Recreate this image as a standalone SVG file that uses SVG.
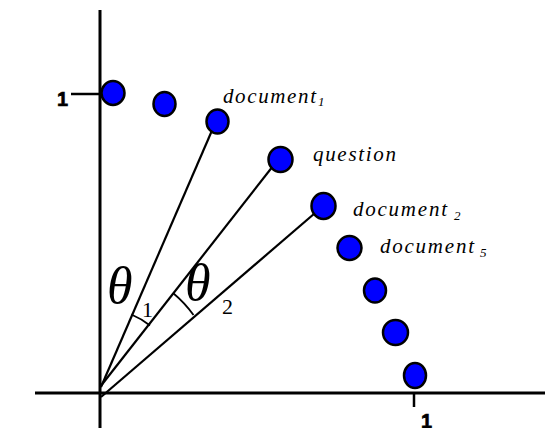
<svg xmlns="http://www.w3.org/2000/svg" width="556" height="428" viewBox="0 0 556 428">
<style>
.axis{stroke:#000;stroke-width:3;fill:none}
.tick{stroke:#000;stroke-width:2.5;fill:none}
.vec{stroke:#000;stroke-width:2.2;fill:none}
.arc{stroke:#000;stroke-width:1.8;fill:none}
.pt{fill:#0000ff;stroke:#000;stroke-width:2.5}
.num{font-family:'Liberation Sans','DejaVu Sans',sans-serif;font-weight:700;font-size:20px;fill:#000;stroke:#000;stroke-width:0.6}
.lbl{font-family:'Liberation Serif','DejaVu Serif',serif;font-style:italic;font-size:21px;fill:#000}
.sub{font-family:'Liberation Serif','DejaVu Serif',serif;font-style:italic;font-size:13px;fill:#000}
.th{font-family:'Liberation Serif','DejaVu Serif',serif;font-style:italic;font-size:52px;fill:#000}
.ths{font-family:'Liberation Serif','DejaVu Serif',serif;font-size:22px;fill:#000}
</style>
<rect width="556" height="428" fill="#fff"/>
<g id="axes">
<line class="axis" x1="100" y1="10" x2="100" y2="428"/>
<line class="axis" x1="35" y1="393" x2="545" y2="393"/>
<line class="tick" x1="71" y1="94" x2="100" y2="94"/>
<line class="tick" x1="414" y1="393" x2="414" y2="407"/>
<text class="num" x="57" y="106">1</text>
<text class="num" x="421" y="428">1</text>
</g>
<g id="connectors">
<line class="vec" x1="101" y1="387" x2="220" y2="112"/>
<line class="vec" x1="100" y1="387" x2="284" y2="152"/>
<line class="vec" x1="101" y1="397" x2="329" y2="201"/>
<path class="arc" d="M131.4,314.5 A79,79 0 0,1 150,325.5"/>
<path class="arc" d="M173,293 A120,120 0 0,1 193.5,315"/>
</g>
<g id="p1"><ellipse class="pt" cx="113" cy="93" rx="11.5" ry="12"/></g>
<g id="p2"><ellipse class="pt" cx="164.5" cy="104" rx="11" ry="12"/></g>
<g id="document1"><ellipse class="pt" cx="217.5" cy="121.5" rx="11" ry="12"/>
<text class="lbl" x="223" y="103" textLength="93" lengthAdjust="spacing">document</text><text class="sub" x="318" y="106">1</text></g>
<g id="question"><ellipse class="pt" cx="280.5" cy="159.5" rx="12" ry="12.5"/>
<text class="lbl" x="313" y="161" textLength="83" lengthAdjust="spacing">question</text></g>
<g id="document2"><ellipse class="pt" cx="323.5" cy="206" rx="12" ry="13"/>
<text class="lbl" x="353" y="216" textLength="94" lengthAdjust="spacing">document</text><text class="sub" x="454" y="220">2</text></g>
<g id="document5"><ellipse class="pt" cx="349.5" cy="248" rx="12" ry="12"/>
<text class="lbl" x="380" y="253" textLength="94" lengthAdjust="spacing">document</text><text class="sub" x="480" y="257">5</text></g>
<g id="p7"><ellipse class="pt" cx="375" cy="290.5" rx="11" ry="12"/></g>
<g id="p8"><ellipse class="pt" cx="395.5" cy="332.5" rx="12.5" ry="12.5"/></g>
<g id="p9"><ellipse class="pt" cx="415" cy="375.5" rx="11" ry="12.5"/></g>
<g id="theta1"><text class="th" x="107" y="303">θ</text><text class="ths" x="142" y="317">1</text></g>
<g id="theta2"><text class="th" x="185" y="300">θ</text><text class="ths" x="222" y="314">2</text></g>
</svg>
